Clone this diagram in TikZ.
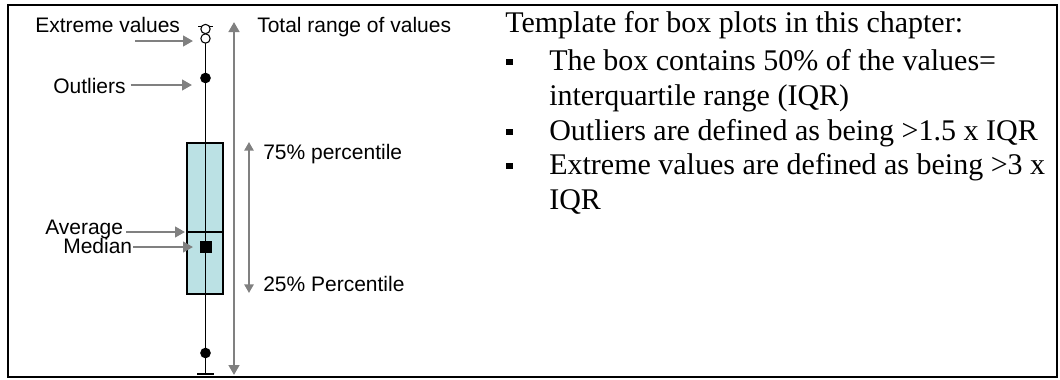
\documentclass[tikz,border=0pt]{standalone}
\usepackage{fontspec}
\setmainfont{Liberation Serif}
\newfontfamily\arialfont{Liberation Sans}
\usetikzlibrary{arrows.meta}

\definecolor{boxfill}{RGB}{187,225,228}
\definecolor{arrgray}{RGB}{128,128,128}

\tikzset{
  lbl/.style={anchor=base west,inner sep=0pt,font=\arialfont\fontsize{15.75}{18}\selectfont},
  txt/.style={anchor=base west,inner sep=0pt,font=\fontsize{22.5}{26}\selectfont},
  garrow/.style={draw=arrgray,line width=1.7pt,-{Triangle[length=7.5pt,width=8pt]}},
  grange/.style={draw=arrgray,line width=1.8pt,{Triangle[length=7.5pt,width=8pt]}-{Triangle[length=7.5pt,width=8pt]}},
  gperc/.style={draw=arrgray,line width=1.3pt,{Triangle[length=6.5pt,width=7pt]}-{Triangle[length=6.5pt,width=7pt]}},
  whisk/.style={draw=black,line width=0.9pt},
  odot/.style={circle,draw=black,fill=white,line width=0.8pt,minimum size=7pt,inner sep=0pt},
  fdot/.style={circle,fill=black,minimum size=8pt,inner sep=0pt},
  bul/.style={rectangle,fill=black,minimum size=4.6pt,inner sep=0pt}
}

\begin{document}
\begin{tikzpicture}[x=0.75pt,y=-0.75pt]
  \useasboundingbox (0,0) rectangle (1060,379);
  \draw[line width=1.5pt] (8,5) rectangle (1057,377);

  % box and whiskers
  \draw[whisk,fill=boxfill] (187,143) rectangle (223,294);
  \coordinate (wtop) at (205.5,43);
  \coordinate (wbot) at (205.5,374);
  \draw[whisk] (wtop) -- (wbot);
  \draw[whisk] (187,232) -- (223,232);
  \draw[whisk] (197,374) -- (214,374);
  \draw[whisk] (198,26.5) -- (213,26.5);
  \node[odot] (ext1) at (205.5,29) {};
  \node[odot] (ext2) at (205.5,38.5) {};
  \node[fdot] (out1) at (205.5,78) {};
  \node[fdot] (out2) at (205.5,353) {};
  \node[bul,minimum size=9pt] (avgsq) at (205.5,246.5) {};

  % ranges
  \coordinate (rtop) at (234,22);
  \coordinate (rbot) at (234,375);
  \draw[grange] (rbot) -- (rtop);
  \coordinate (ptop) at (249,142);
  \coordinate (pbot) at (249,293);
  \draw[gperc] (pbot) -- (ptop);

  % labels
  \node[lbl] (ext) at (35,32.5) {Extreme values};
  \node[lbl] (tot) at (257,32.5) {Total range of values};
  \node[lbl] (outl) at (53,93) {Outliers};
  \node[lbl] (p75) at (263,159) {75\% percentile};
  \node[lbl] (avg) at (45,234.5) {Average};
  \node[lbl] (med) at (63,253) {Median};
  \node[lbl] (p25) at (263,291.5) {25\% Percentile};

  \coordinate (exttail) at (135,41);
  \coordinate (exttip) at (193,41);
  \coordinate (outtip) at (192,85);
  \coordinate (avgtip) at (185,232);
  \coordinate (medtip) at (193,247);
  \draw[garrow] (exttail) -- (exttip);
  \draw[garrow] ([xshift=3.5pt]outl.east |- outtip) -- (outtip);
  \draw[garrow] ([xshift=2pt]avg.east |- avgtip) -- (avgtip);
  \draw[garrow] ([xshift=0.5pt]med.east |- medtip) -- (medtip);

  % template text
  \node[txt] (head) at (505,32) {Template for box plots in this chapter:};
  \node[txt] (it1) at (549,70) {The box contains 50\% of the values=};
  \node[txt] (it1b) at (549,105) {interquartile range (IQR)};
  \node[txt] (it2) at (549,140) {Outliers are defined as being >1.5 x IQR};
  \node[txt] (it3) at (549,174) {Extreme values are defined as being >3 x};
  \node[txt] (it3b) at (549,209) {IQR};
  \foreach \y in {70,140,174}
    \node[bul] at (509.5,\y-8) {};
\end{tikzpicture}
\end{document}
